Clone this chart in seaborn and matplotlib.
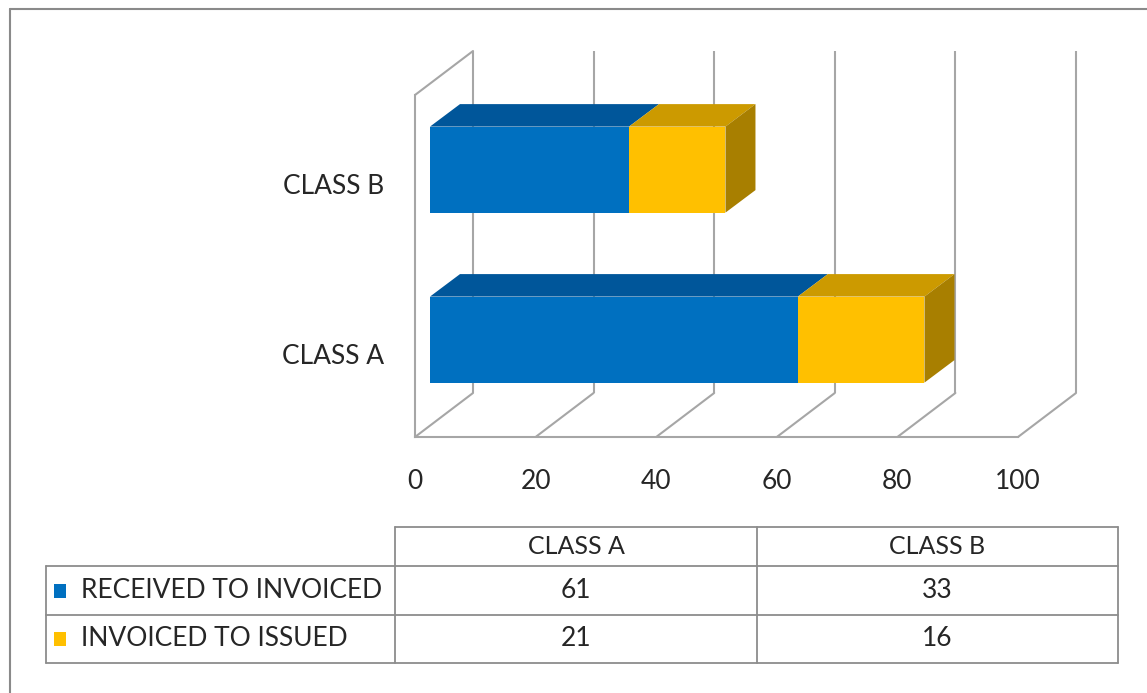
import numpy as np
import pandas as pd
import matplotlib
matplotlib.use("Agg")
import matplotlib.pyplot as plt
import seaborn as sns
from matplotlib.patches import Polygon, Rectangle
from matplotlib.transforms import ScaledTranslation

# ---------------- data ----------------
categories = ["CLASS A", "CLASS B"]
received_to_invoiced = [61, 33]
invoiced_to_issued = [21, 16]
series_names = ["RECEIVED TO INVOICED", "INVOICED TO ISSUED"]
x_ticks = [0, 20, 40, 60, 80, 100]
plot_order = ["CLASS B", "CLASS A"]

# ---------------- style ----------------
sns.set_theme(style="white")
plt.rcParams['font.family'] = ['Lato', 'DejaVu Sans']

BLUE, BLUE_TOP = "#0070C0", "#00569A"
YEL, YEL_TOP, YEL_SIDE = "#FFC000", "#CC9A00", "#A87F00"
GRID = "#A6A6A6"
TXT = "#262626"

W, H = 1147, 693
fig = plt.figure(figsize=(W / 100, H / 100), dpi=100)
fig.patch.set_facecolor("white")


def px_axes(x0, y0, x1, y1):
    return fig.add_axes([x0 / W, 1 - y1 / H, (x1 - x0) / W, (y1 - y0) / H])


# front plane of the 3-D box
ax = px_axes(415, 95, 1018, 437)
YBOT, YTOP = 1.506, -0.506
PX_X = 603 / 100.0      # pixels per value unit
PX_Y = 170.0            # pixels per category unit


def off(px_right, px_up):
    return px_right / PX_X, -px_up / PX_Y


df = pd.DataFrame({"category": categories,
                   "received": received_to_invoiced,
                   "issued": invoiced_to_issued})
df["total"] = df["received"] + df["issued"]

sns.barplot(data=df, y="category", x="total", order=plot_order, orient="h",
            color=YEL, saturation=1, width=0.506, linewidth=0, ax=ax)
sns.barplot(data=df, y="category", x="received", order=plot_order, orient="h",
            color=BLUE, saturation=1, width=0.506, linewidth=0, ax=ax)

ax.set_xlim(0, 100)
ax.set_ylim(YBOT, YTOP)

# bars sit inside the depth of the box
bar_dx0, bar_dy0 = 15, 11.4
bar_depth = (30, 22.5)
shift = ScaledTranslation(bar_dx0 / 100, bar_dy0 / 100, fig.dpi_scale_trans)
for p in ax.patches:
    p.set_transform(ax.transData + shift)
    p.set_clip_on(False)
    p.set_zorder(4)

o0 = off(bar_dx0, bar_dy0)
o1 = off(bar_dx0 + bar_depth[0], bar_dy0 + bar_depth[1])
half = 0.253
for _, row in df.iterrows():
    c = plot_order.index(row["category"])
    segs = [(0, row["received"], BLUE_TOP), (row["received"], row["total"], YEL_TOP)]
    for s, e, col in segs:
        ty = c - half
        pts = [(s + o0[0], ty + o0[1]), (e + o0[0], ty + o0[1]),
               (e + o1[0], ty + o1[1]), (s + o1[0], ty + o1[1])]
        ax.add_patch(Polygon(pts, closed=True, facecolor=col, edgecolor="none",
                             zorder=3, clip_on=False))
    e = row["total"]
    pts = [(e + o0[0], c - half + o0[1]), (e + o1[0], c - half + o1[1]),
           (e + o1[0], c + half + o1[1]), (e + o0[0], c + half + o0[1])]
    ax.add_patch(Polygon(pts, closed=True, facecolor=YEL_SIDE, edgecolor="none",
                         zorder=3, clip_on=False))

# box: back wall gridlines, floor diagonals, left wall
full = off(58, 44)
for v in x_ticks:
    ax.plot([v + full[0], v + full[0]], [YBOT + full[1], YTOP + full[1]],
            color=GRID, lw=1.5, zorder=1, clip_on=False, solid_capstyle="butt")
    ax.plot([v, v + full[0]], [YBOT, YBOT + full[1]],
            color=GRID, lw=1.5, zorder=1, clip_on=False)
ax.plot([0, full[0]], [YTOP, YTOP + full[1]], color=GRID, lw=1.5, zorder=1, clip_on=False)

ax.set_facecolor("none")
for side in ["top", "right"]:
    ax.spines[side].set_visible(False)
for side in ["left", "bottom"]:
    ax.spines[side].set_color(GRID)
    ax.spines[side].set_linewidth(1.5)
ax.set_xticks(x_ticks)
ax.set_xticklabels([str(t) for t in x_ticks])
ax.tick_params(axis="x", length=0, pad=23, labelsize=19, labelcolor=TXT)
ax.tick_params(axis="y", length=0, pad=22, labelsize=19, labelcolor=TXT)
ax.set_xlabel("")
ax.set_ylabel("")
lab_shift = ScaledTranslation(0, -3 / 100, fig.dpi_scale_trans)
for t in ax.get_yticklabels():
    t.set_transform(t.get_transform() + lab_shift)

# ---------------- data table ----------------
tab = fig.add_axes([0, 0, 1, 1], zorder=-1)
tab.set_xlim(0, W)
tab.set_ylim(H, 0)
tab.axis("off")
LC = "#8C8C8C"
xl, xc1, xc2, xr = 46, 395, 757, 1118
yh, y1, y2, y3 = 527, 566, 615, 663
tab.plot([xc1, xr], [yh, yh], color=LC, lw=1.3)
for y in (y1, y2, y3):
    tab.plot([xl, xr], [y, y], color=LC, lw=1.3)
tab.plot([xl, xl], [y1, y3], color=LC, lw=1.3)
for x in (xc1, xc2, xr):
    tab.plot([x, x], [yh, y3], color=LC, lw=1.3)

col_centers = [(xc1 + xc2) / 2, (xc2 + xr) / 2]
for cx, cat in zip(col_centers, categories):
    tab.text(cx, (yh + y1) / 2, cat, ha="center", va="center", fontsize=18, color=TXT)
rows = [received_to_invoiced, invoiced_to_issued]
colors = [BLUE, YEL]
for (ya, yb), name, vals, colr in zip([(y1, y2), (y2, y3)], series_names, rows, colors):
    cy = (ya + yb) / 2
    tab.add_patch(Rectangle((54, cy - 7), 12, 14, facecolor=colr, edgecolor="none"))
    tab.text(81, cy, name, ha="left", va="center", fontsize=19, color=TXT)
    for cx, v in zip(col_centers, vals):
        tab.text(cx, cy, str(v), ha="center", va="center", fontsize=19, color=TXT)

# outer chart frame
tab.plot([10, W], [9, 9], color="#8A8A8A", lw=1.5)
tab.plot([10, 10], [9, H], color="#8A8A8A", lw=1.5)

fig.savefig("out.png", dpi=100, facecolor="white")
